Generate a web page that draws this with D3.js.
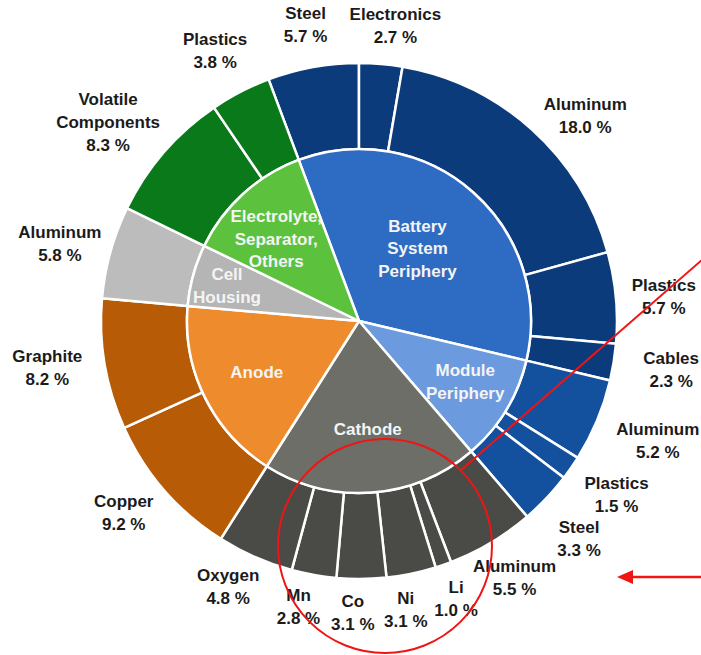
<!DOCTYPE html>
<html>
<head>
<meta charset="utf-8">
<script src="https://cdn.jsdelivr.net/npm/d3@7"></script>
<style>
    html, body { margin: 0; padding: 0; background: #fff; }
    svg { display: block; font-family: "Liberation Sans", Arial, sans-serif; font-weight: bold; }
</style>
</head>
<body>
<svg id="chart"></svg>
<script>
// Data: inner ring (component groups)
var categories = ["Battery System Periphery", "Module Periphery", "Cathode", "Anode", "Cell Housing", "Electrolyte, Separator, Others"]
var categoryLines = [["Battery", "System", "Periphery"], ["Module", "Periphery"], ["Cathode"], ["Anode"], ["Cell", "Housing"], ["Electrolyte,", "Separator,", "Others"]]

// Data: outer ring (materials, share of total mass in %)
var materials = ["Steel", "Electronics", "Aluminum", "Plastics", "Cables",
    "Aluminum", "Plastics", "Steel",
    "Aluminum", "Li", "Ni", "Co", "Mn", "Oxygen",
    "Copper", "Graphite",
    "Aluminum",
    "Volatile Components", "Plastics"]
var materialValues = [5.7, 2.7, 18.0, 5.7, 2.3,
    5.2, 1.5, 3.3,
    5.5, 1.0, 3.1, 3.1, 2.8, 4.8,
    9.2, 8.2,
    5.8,
    8.3, 3.8]
var materialCategory = [0, 0, 0, 0, 0,
    1, 1, 1,
    2, 2, 2, 2, 2, 2,
    3, 3,
    4,
    5, 5]

// Colours
var innerColors = ["#2e6bc3", "#6b9ade", "#6d6e68", "#ee8c2d", "#b5b5b5", "#5cc23e"]
var outerColors = ["#0c3b7c", "#13509e", "#4a4a47", "#b75b07", "#bcbcbc", "#09791a"]

// Layout
var svgWidth = 701, svgHeight = 655
var cx = 359, cy = 321
var rInner = 172, rOuter = 258, rLabel = 300
var lineH = 23

// label nudges (px) from the default spot on the mid angle
var outerNudge = [[0, -1], [11, 3], [25, 17], [6, 3], [16, 1],
    [22, 4], [11, 2], [2, 11],
    [2, -1], [-1, -6], [-14, -5], [-9, -9], [-8, -10], [-10, -9],
    [-9, -6], [-16, -4],
    [-10, 2],
    [-24, -3], [-6, -4]]
var innerLabelR = [93, 122, 108, 114, 137, 117]
var innerNudge = [[-3, -3], [2, -3], [1, 0], [0, 0], [0, 1], [-4, 4]]

var svg = d3.select("#chart")
    .attr("width", svgWidth)
    .attr("height", svgHeight)

var g = svg.append("g")
    .attr("transform", "translate(" + cx + "," + cy + ")")

var total = d3.sum(materialValues)
var start = -materialValues[0] / total * 2 * Math.PI

// category sums from the materials
var categoryValues = categories.map((c, i) => {
    return d3.sum(materialValues.filter((v, j) => materialCategory[j] === i))
})

var pie = d3.pie()
    .sort(null)
    .startAngle(start)
    .endAngle(start + 2 * Math.PI)

var innerArcs = pie(categoryValues)
var outerArcs = pie(materialValues)

var innerArc = d3.arc().innerRadius(0).outerRadius(rInner)
var outerArc = d3.arc().innerRadius(rInner).outerRadius(rOuter)

// Outer ring
g.selectAll("path.outer")
    .data(outerArcs)
    .enter()
    .append("path")
    .attr("class", "outer")
    .attr("d", outerArc)
    .attr("fill", (d, i) => outerColors[materialCategory[i]])
    .attr("stroke", "#fff")
    .attr("stroke-width", 2.5)
    .attr("stroke-linejoin", "round")

// Inner pie
g.selectAll("path.inner")
    .data(innerArcs)
    .enter()
    .append("path")
    .attr("class", "inner")
    .attr("d", innerArc)
    .attr("fill", (d, i) => innerColors[i])
    .attr("stroke", "#fff")
    .attr("stroke-width", 2.5)
    .attr("stroke-linejoin", "round")

function polar(a, r) {
    return [r * Math.sin(a), -r * Math.cos(a)]
}

// Outer labels
var outerLabels = g.selectAll("text.outer-label")
    .data(outerArcs)
    .enter()
    .append("text")
    .attr("class", "outer-label")
    .attr("text-anchor", "middle")
    .attr("font-size", 17)
    .attr("fill", "#1b1b1b")
    .attr("transform", (d, i) => {
        var p = polar((d.startAngle + d.endAngle) / 2, rLabel)
        return "translate(" + (p[0] + outerNudge[i][0]) + "," + (p[1] + outerNudge[i][1]) + ")"
    })

outerLabels.each(function (d, i) {
    var lines = materials[i] === "Volatile Components" ? ["Volatile", "Components"] : [materials[i]]
    lines.push(d3.format(".1f")(materialValues[i]) + " %")
    var t = d3.select(this)
    lines.forEach((s, k) => {
        t.append("tspan")
            .attr("x", 0)
            .attr("y", (k - (lines.length - 1) / 2) * lineH)
            .attr("dy", "0.36em")
            .text(s)
    })
})

// Inner labels
var innerLabels = g.selectAll("text.inner-label")
    .data(innerArcs)
    .enter()
    .append("text")
    .attr("class", "inner-label")
    .attr("text-anchor", "middle")
    .attr("font-size", 17)
    .attr("fill", "#f4f4f4")
    .attr("transform", (d, i) => {
        var p = polar((d.startAngle + d.endAngle) / 2, innerLabelR[i])
        return "translate(" + (p[0] + innerNudge[i][0]) + "," + (p[1] + innerNudge[i][1]) + ")"
    })

innerLabels.each(function (d, i) {
    var lines = categoryLines[i]
    var t = d3.select(this)
    lines.forEach((s, k) => {
        t.append("tspan")
            .attr("x", 0)
            .attr("y", (k - (lines.length - 1) / 2) * 22.5)
            .attr("dy", "0.36em")
            .text(s)
    })
})

// Red annotations drawn on top
var red = "#f01414"
var ann = svg.append("g")
    .attr("fill", "none")
    .attr("stroke", red)
    .attr("stroke-width", 2)

ann.append("circle")
    .attr("cx", 385)
    .attr("cy", 546)
    .attr("r", 107)

ann.append("line")
    .attr("x1", 460).attr("y1", 471)
    .attr("x2", 703).attr("y2", 259)

ann.append("line")
    .attr("x1", 701).attr("y1", 577)
    .attr("x2", 628).attr("y2", 577)
    .attr("stroke-width", 2.5)

svg.append("path")
    .attr("d", "M617,577 L633,570 L633,584 Z")
    .attr("fill", red)
</script>
</body>
</html>
